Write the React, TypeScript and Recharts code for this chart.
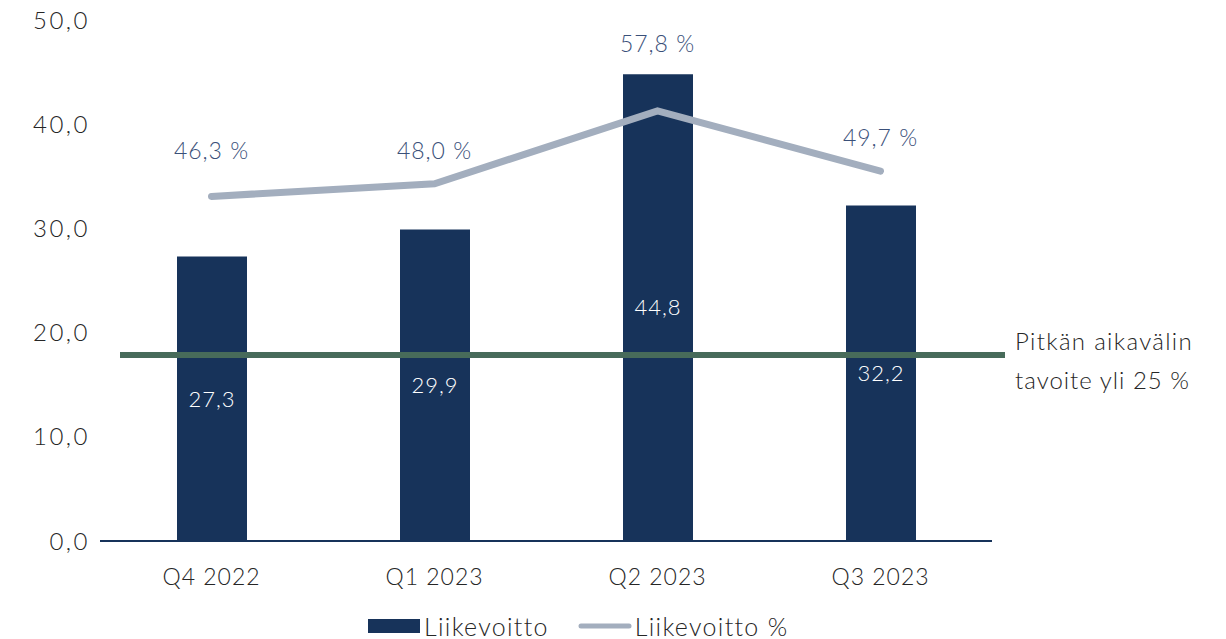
import React from 'react';
import {
  ComposedChart, Bar, Line, XAxis, YAxis, ReferenceLine, Legend, LabelList,
} from 'recharts';

const categories = ['Q4 2022', 'Q1 2023', 'Q2 2023', 'Q3 2023'];
const liikevoitto = [27.3, 29.9, 44.8, 32.2];
const liikevoittoPct = [46.3, 48.0, 57.8, 49.7];
const yTicks = [0, 10, 20, 30, 40, 50];
const targetPct = 25;
const targetLabel = ['Pitkän aikavälin', 'tavoite yli 25 %'];

// label lift (px above the line point) per category, styling only
const pctLabelLift = [46, 34, 68, 34];

const data = categories.map((c, i) => ({
  name: c,
  lv: liikevoitto[i],
  pct: liikevoittoPct[i],
}));

const FONT = 'Lato, "Open Sans", sans-serif';
const W = 300;
const LS = 1;
const fmt1 = (v: number) => v.toFixed(1).replace('.', ',');

const PctLabel = (props: any) => {
  const { x, y, value, index } = props;
  return (
    <text
      x={x}
      y={y - pctLabelLift[index]}
      textAnchor="middle"
      dominantBaseline="central"
      fill="#3A5079"
      fontSize={23}
      letterSpacing={LS}
      fontFamily={FONT}
      fontWeight={W}
    >
      {fmt1(value) + ' %'}
    </text>
  );
};

const TargetShape = (props: any) => {
  const { x1, y1, x2 } = props;
  const a = Math.min(Number(x1), Number(x2));
  const b = Math.max(Number(x1), Number(x2));
  const y = Number(y1);
  return (
    <g>
      <line x1={a + 20} y1={y} x2={b + 13} y2={y} stroke="#476B5A" strokeWidth={6} />
      <text x={b + 23} y={y - 5} fill="#262626" fontSize={24} letterSpacing={1.3} fontFamily={FONT} fontWeight={W}>
        {targetLabel[0]}
      </text>
      <text x={b + 23} y={y + 34} fill="#262626" fontSize={24} letterSpacing={LS} fontFamily={FONT} fontWeight={W}>
        {targetLabel[1]}
      </text>
    </g>
  );
};

const LegendContent = () => (
  <div
    style={{
      display: 'flex',
      alignItems: 'center',
      paddingLeft: 368,
      height: 46,
      paddingTop: 20,
      boxSizing: 'border-box',
      fontFamily: FONT,
      fontWeight: W,
      fontSize: 25,
      letterSpacing: 1.3,
      color: '#262626',
      whiteSpace: 'nowrap',
      lineHeight: '24px',
    }}
  >
    <svg width={56} height={14} style={{ flexShrink: 0 }}>
      <rect x={0} y={0} width={52} height={14} fill="#17335A" />
    </svg>
    <span style={{ marginRight: 29 }}>Liikevoitto</span>
    <svg width={57} height={8} style={{ flexShrink: 0 }}>
      <line x1={3} y1={4} x2={51} y2={4} stroke="#A3AEBE" strokeWidth={5} strokeLinecap="round" />
    </svg>
    <span>Liikevoitto %</span>
  </div>
);

export default function App() {
  return (
    <div style={{ position: 'absolute', left: 0, top: 0 }}>
      <ComposedChart
        width={1226}
        height={639}
        data={data}
        margin={{ top: 20, right: 234, bottom: 0, left: 0 }}
      >
        <XAxis
          dataKey="name"
          height={52}
          tickSize={0}
          tickMargin={28}
          axisLine={{ stroke: '#17335A', strokeWidth: 2 }}
          tick={{ fill: '#262626', fontSize: 23, letterSpacing: LS, fontFamily: FONT, fontWeight: W }}
        />
        <YAxis
          yAxisId="lv"
          width={100}
          domain={[0, 50]}
          ticks={yTicks}
          tickFormatter={fmt1}
          axisLine={false}
          tickSize={0}
          tickMargin={10}
          tick={{ fill: '#262626', fontSize: 24, letterSpacing: 2.5, fontFamily: FONT, fontWeight: W }}
        />
        <YAxis yAxisId="pct" orientation="right" domain={[0, 70]} hide />
        <Bar yAxisId="lv" dataKey="lv" fill="#17335A" barSize={70} isAnimationActive={false}>
          <LabelList
            dataKey="lv"
            position="center"
            formatter={(v: any) => fmt1(Number(v))}
            fill="#FFFFFF"
            fontSize={22}
            letterSpacing={LS}
            fontFamily={FONT}
            fontWeight={W}
          />
        </Bar>
        <ReferenceLine yAxisId="pct" y={targetPct} shape={<TargetShape />} />
        <Line
          yAxisId="pct"
          dataKey="pct"
          stroke="#A3AEBE"
          strokeWidth={7}
          strokeLinecap="round"
          dot={false}
          activeDot={false}
          isAnimationActive={false}
        >
          <LabelList dataKey="pct" content={<PctLabel />} />
        </Line>
        <Legend
          verticalAlign="bottom"
          height={46}
          wrapperStyle={{ left: 0, width: 1226 }}
          content={<LegendContent />}
        />
      </ComposedChart>
    </div>
  );
}
